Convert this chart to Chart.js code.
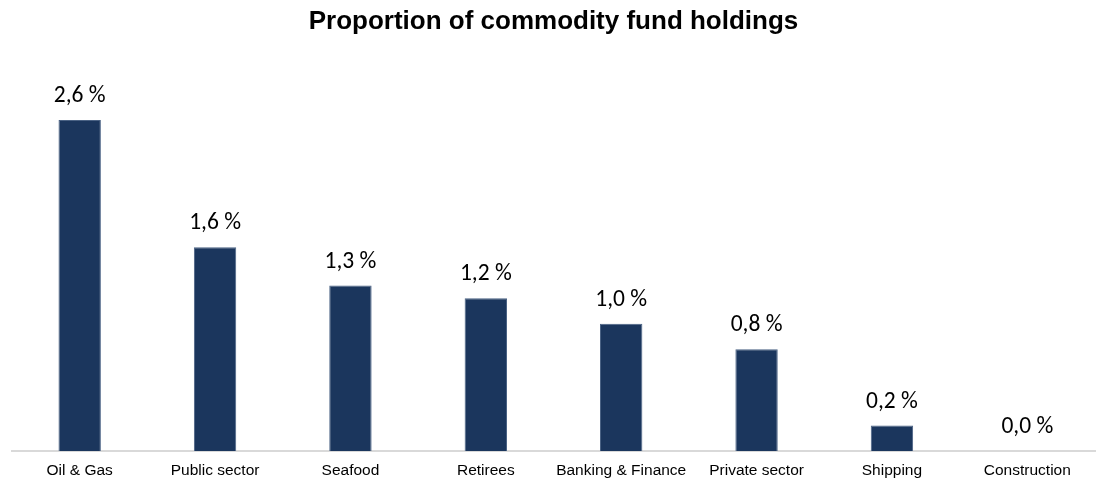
<!DOCTYPE html>
<html>
<head>
<meta charset="utf-8">
<script src="https://cdn.jsdelivr.net/npm/chart.js@4/dist/chart.umd.min.js"></script>
<style>
  html, body { margin: 0; padding: 0; background: #ffffff; }
  #wrap { width: 1098px; height: 481px; position: relative; }
</style>
</head>
<body>
<div id="wrap"><canvas id="chart"></canvas></div>
<script>
// Sectors and their share of commodity fund holdings (percent)
const categories = ['Oil & Gas', 'Public sector', 'Seafood', 'Retirees', 'Banking & Finance', 'Private sector', 'Shipping', 'Construction'];
const shares = [2.6, 1.6, 1.3, 1.2, 1.0, 0.8, 0.2, 0.0];
const titleText = 'Proportion of commodity fund holdings';

const BAR_COLOR = '#1b365d';

// Value labels above each bar, written with a decimal comma
const valueLabels = {
  id: 'valueLabels',
  afterDatasetsDraw(chart) {
    const ctx = chart.ctx;
    const meta = chart.getDatasetMeta(0);
    ctx.save();
    ctx.font = '23.5px Carlito, Calibri, Lato, sans-serif';
    ctx.fillStyle = '#000000';
    ctx.textAlign = 'center';
    ctx.textBaseline = 'alphabetic';
    meta.data.forEach((bar, i) => {
      const txt = shares[i].toFixed(1).replace('.', ',') + ' %';
      ctx.fillText(txt, bar.x, bar.y - 18);
    });
    ctx.restore();
  }
};

new Chart(document.getElementById('chart'), {
  type: 'bar',
  data: {
    labels: categories,
    datasets: [{
      data: shares,
      backgroundColor: BAR_COLOR,
      borderColor: '#4a6284',
      borderWidth: 1,
      barPercentage: 0.313,
      categoryPercentage: 1.0
    }]
  },
  options: {
    responsive: true,
    maintainAspectRatio: false,
    animation: false,
    layout: { padding: { left: 12, right: 3, top: 0, bottom: 0 } },
    plugins: {
      legend: { display: false },
      tooltip: { enabled: false },
      title: {
        display: true,
        text: titleText,
        color: '#000000',
        font: { family: '"Liberation Sans", Arial, sans-serif', size: 26, weight: 'bold', lineHeight: 1.2 },
        padding: { top: 6, bottom: 32 }
      }
    },
    scales: {
      x: {
        grid: { display: false, drawTicks: false },
        border: { display: true, color: '#d9d9d9', width: 2 },
        ticks: {
          color: '#000000',
          font: { family: '"Liberation Sans", Arial, sans-serif', size: 15.5 },
          padding: 10,
          maxRotation: 0,
          autoSkip: false
        },
        afterFit(scale) { scale.height = 30; }
      },
      y: {
        display: false,
        min: 0,
        max: 3
      }
    }
  },
  plugins: [valueLabels]
});
</script>
</body>
</html>
